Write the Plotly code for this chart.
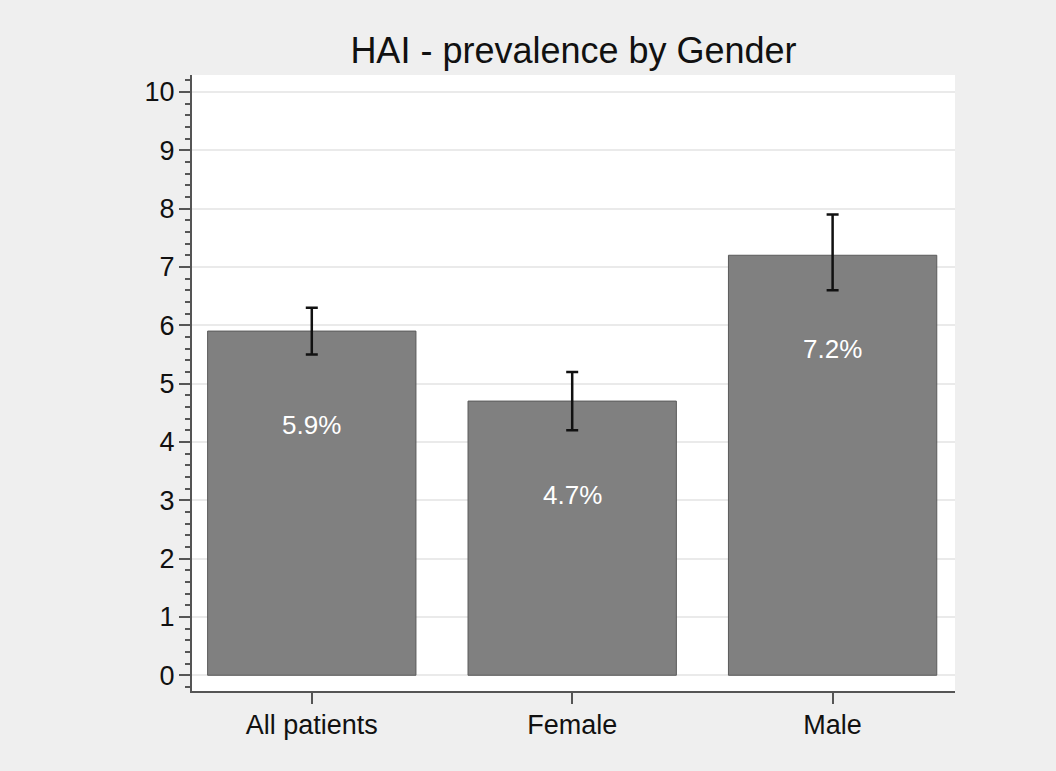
import plotly.graph_objects as go

# HAI prevalence (%) with 95% CI
groups = ["All patients", "Female", "Male"]
prevalence = [5.9, 4.7, 7.2]
ci_low = [5.5, 4.2, 6.6]
ci_high = [6.3, 5.2, 7.9]
y_ticks = list(range(0, 11))

labels = ["{:.1f}%".format(v) for v in prevalence]
err_plus = [h - v for h, v in zip(ci_high, prevalence)]
err_minus = [v - l for l, v in zip(ci_low, prevalence)]

fig = go.Figure()
fig.add_trace(go.Bar(
    x=groups, y=prevalence, width=0.8,
    marker=dict(color="#808080", line=dict(color="#5a5a5a", width=1)),
    error_y=dict(type="data", array=err_plus, arrayminus=err_minus,
                 color="#111111", thickness=2.5, width=6),
    showlegend=False,
))

# value labels sit inside the bar, a bit below the top
for g, v, t in zip(groups, prevalence, labels):
    fig.add_annotation(x=g, y=v, text=t, showarrow=False, yshift=-94,
                       font=dict(color="white", size=26))

fig.update_layout(
    width=1056, height=771,
    title=dict(text="HAI - prevalence by Gender", xref="paper", x=0.5, xanchor="center",
               y=0.935, yanchor="middle", font=dict(size=36, color="#111111")),
    font=dict(family="Liberation Sans, Arial", size=27, color="#111111"),
    paper_bgcolor="#efefef", plot_bgcolor="white",
    margin=dict(l=192, r=101, t=75, b=80),
    bargap=0.2,
)
fig.update_xaxes(range=[-0.46, 2.47], showline=True, linecolor="#555555", linewidth=2,
                 ticks="outside", ticklen=11, tickcolor="#555555", tickwidth=1.5,
                 showgrid=False, ticklabelstandoff=-2)
fig.update_yaxes(range=[-0.27, 10.29], tickvals=y_ticks, showline=True,
                 linecolor="#555555", linewidth=2, ticks="outside", ticklen=11,
                 tickcolor="#555555", tickwidth=1.5, showgrid=True,
                 gridcolor="#eaeaea", gridwidth=2, zeroline=False, ticklabelstandoff=-1,
                 minor=dict(dtick=0.2, ticks="outside", ticklen=5, tickcolor="#555555",
                            tickwidth=1.5, showgrid=False))

# drop the default page margin so the figure fills the window
fig.write_html("out.html", config={"displayModeBar": False},
               post_script="document.body.style.margin='0';")
